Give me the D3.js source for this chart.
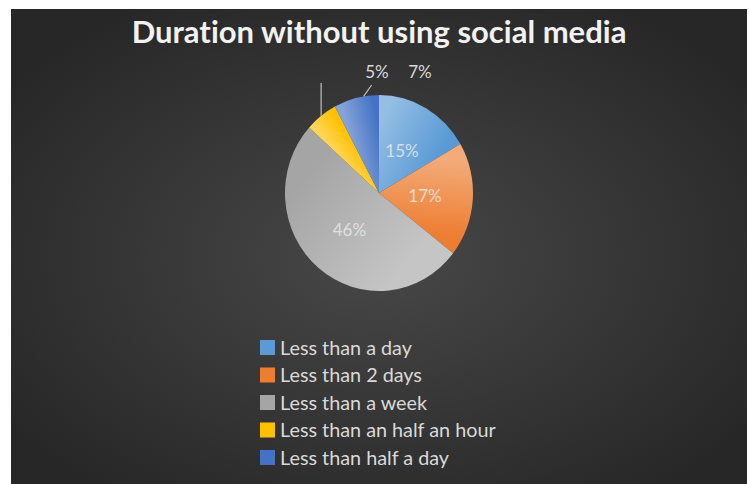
<!DOCTYPE html>
<html><head><meta charset="utf-8">
<script src="https://cdn.jsdelivr.net/npm/d3@7"></script>
<style>html,body{margin:0;padding:0;background:#fff;}svg{display:block;}text{font-variant-ligatures:none;}</style>
</head><body>
<script>
const categories = ["Less than a day","Less than 2 days","Less than a week","Less than an half an hour","Less than half a day"];
const values = [15, 17, 46, 5, 7];
const labels = ["15%","17%","46%","5%","7%"];
const colors = ["#5b9bd5","#ed7d31","#a5a5a5","#ffc000","#4472c4"];
const title = "Duration without using social media";

const W = 749, H = 484;
const svg = d3.select("body").append("svg").attr("width", W).attr("height", H);
const defs = svg.append("defs");

const bg = defs.append("radialGradient").attr("id","bg").attr("cx","50%").attr("cy","52%").attr("r","62%");
bg.append("stop").attr("offset","0%").attr("stop-color","#484848");
bg.append("stop").attr("offset","100%").attr("stop-color","#272727");
svg.append("rect").attr("x",11).attr("y",9).attr("width",W-13).attr("height",H-9).attr("fill","url(#bg)");

svg.append("text").attr("x",379).attr("y",43).attr("text-anchor","middle")
  .attr("font-family","Lato").attr("font-weight","bold").attr("font-size",31)
  .attr("fill","#f2f2f2").text(title);

const cx = 379, cy = 193, R = 98, sx = 94/98;
const pie = d3.pie().value(d => d).sort(null);
const arcs = pie(values);
const arc = d3.arc().innerRadius(0).outerRadius(R);
const g = svg.append("g").attr("transform", `translate(${cx},${cy}) scale(${sx},1)`);

arcs.forEach((a,i) => {
  const r = R*0.7;
  const gr = defs.append("linearGradient").attr("id","sg"+i).attr("gradientUnits","userSpaceOnUse")
    .attr("x1", Math.sin(a.startAngle)*r).attr("y1", -Math.cos(a.startAngle)*r)
    .attr("x2", Math.sin(a.endAngle)*r).attr("y2", -Math.cos(a.endAngle)*r);
  gr.append("stop").attr("offset","0%").attr("stop-color", d3.interpolateRgb(colors[i], "#ffffff")(0.35));
  gr.append("stop").attr("offset","100%").attr("stop-color", colors[i]);
});

g.selectAll("path.slice").data(arcs).join("path").attr("class","slice")
  .attr("d", arc).attr("fill", (d,i) => `url(#sg${i})`);

// inside labels for large slices
const labelArc = d3.arc().innerRadius(R*0.49).outerRadius(R*0.49);
arcs.forEach((a,i) => {
  if (values[i] < 10) return;
  const c = labelArc.centroid(a);
  svg.append("text").attr("x", cx + c[0]*sx).attr("y", cy + c[1]).attr("dy","0.35em")
    .attr("text-anchor","middle").attr("font-family","Lato").attr("font-size",17)
    .attr("fill","#e8e8e8").attr("fill-opacity",0.85).text(labels[i]);
});

// outside labels for small slices with leader lines
const outerPt = (ang) => [cx + Math.sin(ang)*R*sx, cy - Math.cos(ang)*R];
const labY = cy - R - 23;
const small = [3, 4];
const labX = [cx - 2, cx + 41];
small.forEach((i, k) => {
  svg.append("text").attr("x", labX[k]).attr("y", labY).attr("dy","0.35em")
    .attr("text-anchor","middle").attr("font-family","Lato").attr("font-size",17)
    .attr("fill","#d9d9d9").text(labels[i]);
});
// leader for yellow: vertical line
{
  const a = arcs[3]; const m = (a.startAngle + a.endAngle)/2;
  const p = outerPt(m);
  svg.append("line").attr("x1", p[0]).attr("y1", p[1]).attr("x2", p[0]).attr("y2", labY + 11)
    .attr("stroke","#bfbfbf").attr("stroke-width",1.2);
}
// leader for dark blue: diagonal
{
  const a = arcs[4]; const m = (a.startAngle + a.endAngle)/2 + 0.08;
  const p = outerPt(m);
  svg.append("line").attr("x1", p[0]).attr("y1", p[1]).attr("x2", p[0]+8).attr("y2", labY + 13)
    .attr("stroke","#bfbfbf").attr("stroke-width",1.2);
}

// legend
const lg = svg.append("g").attr("transform","translate(260,340)");
categories.forEach((c,i) => {
  const row = lg.append("g").attr("transform",`translate(0,${i*27.5})`);
  row.append("rect").attr("x",0).attr("y",0).attr("width",15).attr("height",15).attr("fill",colors[i]);
  row.append("text").attr("x",20).attr("y",8).attr("dy","0.35em")
    .attr("font-family","Lato").attr("font-size",19.8).attr("fill","#d9d9d9").text(c);
});
</script>
</body></html>
